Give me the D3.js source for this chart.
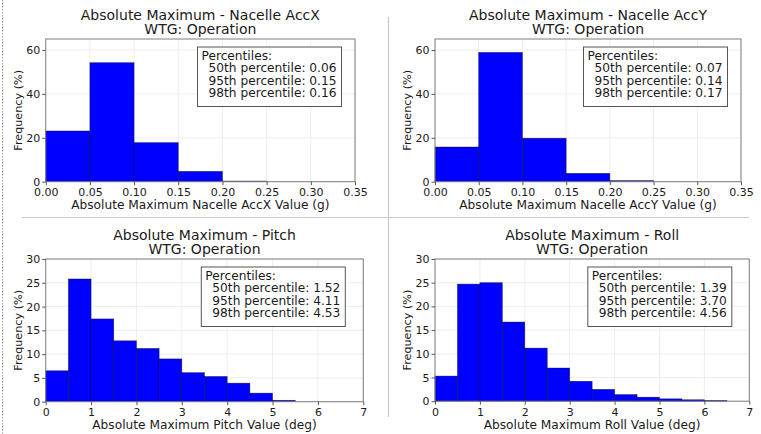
<!DOCTYPE html>
<html>
<head>
<meta charset="utf-8">
<script src="https://cdn.jsdelivr.net/npm/d3@7"></script>
<style>
  body { margin: 0; background: #fff; }
  text { font-family: "DejaVu Sans", sans-serif; fill: #1a1a1a; }
</style>
</head>
<body>
<script>
// data
var accEdges = [0, 0.05, 0.10, 0.15, 0.20, 0.25]
var degEdges = [0, 0.5, 1, 1.5, 2, 2.5, 3, 3.5, 4, 4.5, 5, 5.5, 6, 6.5]

var accxFreq = [23.1, 54.2, 17.8, 4.7, 0.3]
var accyFreq = [15.8, 58.9, 19.8, 3.8, 0.5]
var pitchFreq = [6.5, 25.8, 17.4, 12.8, 11.2, 9.0, 6.1, 5.3, 3.9, 1.8, 0.3]
var rollFreq = [5.3, 24.7, 25.0, 16.7, 11.2, 7.0, 4.2, 2.5, 1.4, 0.85, 0.5, 0.3, 0.15]

var accXTicks = [0, 0.05, 0.10, 0.15, 0.20, 0.25, 0.30, 0.35]
var accYTicks = [0, 20, 40, 60]
var degXTicks = [0, 1, 2, 3, 4, 5, 6, 7]
var degYTicks = [0, 5, 10, 15, 20, 25, 30]

var titles = ['Absolute Maximum - Nacelle AccX', 'Absolute Maximum - Nacelle AccY',
              'Absolute Maximum - Pitch', 'Absolute Maximum - Roll']
var xLabels = ['Absolute Maximum Nacelle AccX Value (g)', 'Absolute Maximum Nacelle AccY Value (g)',
               'Absolute Maximum Pitch Value (deg)', 'Absolute Maximum Roll Value (deg)']
var p50 = ['0.06', '0.07', '1.52', '1.39']
var p95 = ['0.15', '0.14', '4.11', '3.70']
var p98 = ['0.16', '0.17', '4.53', '4.56']

var W = 761, H = 434
var svg = d3.select('body').append('svg').attr('width', W).attr('height', H)

// page frame bits: dotted left edge and the separators
svg.append('line').attr('x1', 2.5).attr('x2', 2.5).attr('y1', 0).attr('y2', H)
  .attr('stroke', '#999').attr('stroke-dasharray', '1.5,1.5')
svg.append('line').attr('x1', 388.5).attr('x2', 388.5).attr('y1', 17).attr('y2', 417)
  .attr('stroke', '#c8c8c8').attr('stroke-width', 1.2)
svg.append('line').attr('x1', 22).attr('x2', 749).attr('y1', 217.5).attr('y2', 217.5)
  .attr('stroke', '#c8c8c8').attr('stroke-width', 1.2)

var panels = [
  {box: [45.7, 355, 39, 181.7], xd: [0, 0.35], yd: [0, 65], edges: accEdges, freq: accxFreq,
   xt: accXTicks, yt: accYTicks, fmt: d3.format('.2f'), ylx: 19, lg: 13.5},
  {box: [435, 741, 39, 181.7], xd: [0, 0.35], yd: [0, 65], edges: accEdges, freq: accyFreq,
   xt: accXTicks, yt: accYTicks, fmt: d3.format('.2f'), ylx: 408, lg: 13.5},
  {box: [45.7, 363.3, 259, 401.7], xd: [0, 7], yd: [0, 30], edges: degEdges, freq: pitchFreq,
   xt: degXTicks, yt: degYTicks, fmt: d3.format('d'), ylx: 19, lg: 18},
  {box: [435, 749.3, 259, 401.2], xd: [0, 7], yd: [0, 30], edges: degEdges, freq: rollFreq,
   xt: degXTicks, yt: degYTicks, fmt: d3.format('d'), ylx: 408, lg: 17.5}
]

panels.forEach(function(p, k) {
  var L = p.box[0], R = p.box[1], T = p.box[2], B = p.box[3]
  var x = d3.scaleLinear().domain(p.xd).range([L, R])
  var y = d3.scaleLinear().domain(p.yd).range([B, T])
  var g = svg.append('g')

  // grid
  g.selectAll('.gx').data(p.xt).enter().append('line')
    .attr('x1', function(d){return x(d)}).attr('x2', function(d){return x(d)})
    .attr('y1', T).attr('y2', B).attr('stroke', '#e8e8e8').attr('stroke-width', 0.8)
  g.selectAll('.gy').data(p.yt).enter().append('line')
    .attr('y1', function(d){return y(d)}).attr('y2', function(d){return y(d)})
    .attr('x1', L).attr('x2', R).attr('stroke', '#e8e8e8').attr('stroke-width', 0.8)

  // bars
  g.selectAll('rect.bar').data(p.freq).enter().append('rect')
    .attr('x', function(d, i){return x(p.edges[i])})
    .attr('width', function(d, i){return x(p.edges[i+1]) - x(p.edges[i])})
    .attr('y', function(d){return y(d)})
    .attr('height', function(d){return B - y(d)})
    .attr('fill', '#0000ff').attr('stroke', '#000').attr('stroke-opacity', 0.6).attr('stroke-width', 0.6)

  // frame
  g.append('rect').attr('x', L).attr('y', T).attr('width', R - L).attr('height', B - T)
    .attr('fill', 'none').attr('stroke', '#7f7f7f').attr('stroke-width', 1)

  // axes
  var xa = g.append('g').attr('transform', 'translate(0,' + B + ')')
    .call(d3.axisBottom(x).tickValues(p.xt).tickFormat(p.fmt).tickSize(3.5).tickPadding(3.5))
  var ya = g.append('g').attr('transform', 'translate(' + L + ',0)')
    .call(d3.axisLeft(y).tickValues(p.yt).tickSize(3.5).tickPadding(2))
  ;[xa, ya].forEach(function(a) {
    a.select('.domain').remove()
    a.selectAll('line').attr('stroke', '#555')
    a.selectAll('text').attr('font-size', 11).attr('fill', '#1a1a1a')
      .style('font-family', '"DejaVu Sans", sans-serif')
  })

  // titles and labels
  var cx = (L + R) / 2
  g.append('text').attr('x', cx).attr('y', T - 19).attr('text-anchor', 'middle')
    .attr('font-size', 14).text(titles[k])
  g.append('text').attr('x', cx).attr('y', T - 5).attr('text-anchor', 'middle')
    .attr('font-size', 14).text('WTG: Operation')
  g.append('text').attr('x', cx).attr('y', B + 27.5).attr('text-anchor', 'middle')
    .attr('font-size', 12.2).text(xLabels[k])
  g.append('text').attr('transform', 'translate(' + (p.ylx + 3) + ',' + ((T + B) / 2) + ') rotate(-90)')
    .attr('text-anchor', 'middle').attr('font-size', 11.2).text('Frequency (%)')

  // percentile box
  var bw = 144, bh = 59.5
  var bx = R - p.lg - bw, by = T + 8
  g.append('rect').attr('x', bx).attr('y', by).attr('width', bw).attr('height', bh)
    .attr('fill', '#fff').attr('stroke', '#555').attr('stroke-width', 1)
  var lines = ['Percentiles:', '50th percentile: ' + p50[k], '95th percentile: ' + p95[k], '98th percentile: ' + p98[k]]
  g.selectAll('text.lg').data(lines).enter().append('text')
    .attr('x', function(d, i){return i == 0 ? bx + 4 : bx + bw - 5})
    .attr('text-anchor', function(d, i){return i == 0 ? 'start' : 'end'})
    .attr('y', function(d, i){return by + 12.5 + i * 12.6})
    .attr('font-size', 12.2).text(function(d){return d})
})
</script>
</body>
</html>
